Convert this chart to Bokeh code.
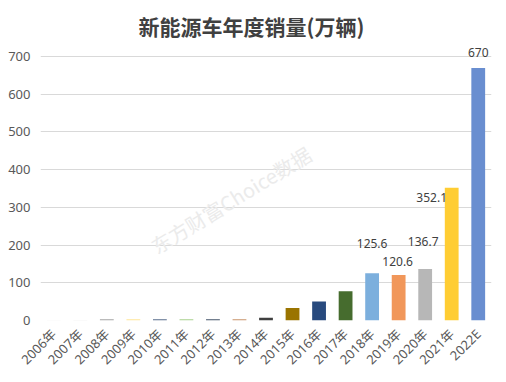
import math
from bokeh.plotting import figure
from bokeh.models import ColumnDataSource, Label, FactorRange
from bokeh.core.properties import value
from bokeh.embed import file_html
from bokeh.resources import INLINE

years = ["2006年", "2007年", "2008年", "2009年", "2010年", "2011年", "2012年", "2013年",
         "2014年", "2015年", "2016年", "2017年", "2018年", "2019年", "2020年", "2021年", "2022E"]
sales = [1.0, 1.0, 3.0, 3.0, 3.0, 3.0, 3.0, 3.0, 7.5, 33.1, 50.7, 77.7,
         125.6, 120.6, 136.7, 352.1, 670]
colors = ["#f4f4f4", "#ececec", "#a5a5a5", "#ffe699", "#5a6e8c", "#a9d18e", "#44546a", "#c9956b",
          "#404040", "#9a7400", "#284a7e", "#466c2e", "#7cafdd", "#f1975a", "#b7b7b7", "#ffcd33", "#698ed0"]

label_years = ["2018年", "2019年", "2020年", "2021年", "2022E"]
label_values = [125.6, 120.6, 136.7, 352.1, 670]
label_texts = ["125.6", "120.6", "136.7", "352.1", "670"]
label_dx = [0, -1, -2, -20, 0]
label_dy = [-30, -14, -27, 10, -15]

CJK = "Noto Sans CJK SC"
NUM = "Noto Sans, Noto Sans CJK SC"

p = figure(x_range=FactorRange(*years), y_range=(0, 740), width=506, height=382,
           output_backend="svg", toolbar_location=None,
           min_border_left=40, min_border_right=15, min_border_bottom=62, min_border_top=41)
p.outline_line_color = None
p.background_fill_color = "white"
p.border_fill_color = "white"

p.title.text = "新能源车年度销量(万辆)"
p.title.align = "left"
p.title.offset = 98
p.title.text_font = CJK
p.title.text_font_size = "21px"
p.title.text_font_style = "bold"
p.title.text_color = "#404040"
p.title.standoff = 2

src = ColumnDataSource(dict(x=years, top=sales, color=colors))
p.vbar(x="x", top="top", width=0.52, fill_color="color", line_color=None, source=src)

lsrc = ColumnDataSource(dict(x=label_years, y=label_values, t=label_texts, dx=label_dx, dy=label_dy))
p.text(x="x", y="y", text="t", x_offset="dx", y_offset="dy", source=lsrc,
       text_font=value(NUM), text_font_size="12px", text_color="#404040",
       text_align="center", text_baseline="middle")

wm = Label(x=4.52, y=160, text="东方财富Choice数据", angle=0.55, text_font=CJK,
           text_font_size="20px", text_color="#ebebeb", text_align="left",
           text_baseline="bottom")
p.add_layout(wm)

p.xgrid.grid_line_color = None
p.ygrid.grid_line_color = "#d9d9d9"
p.ygrid.grid_line_width = 1
p.yaxis.ticker = [0, 100, 200, 300, 400, 500, 600, 700]
for ax in (p.xaxis, p.yaxis):
    ax.axis_line_color = None
    ax.major_tick_line_color = None
    ax.minor_tick_line_color = None
    ax.major_label_text_font = NUM
    ax.major_label_text_font_size = "13px"
    ax.major_label_text_color = "#595959"
p.xaxis.major_label_orientation = math.pi / 4
p.xaxis.major_label_standoff = 5
p.yaxis.major_label_standoff = 4

open("out.html", "w").write(file_html(p, INLINE))
